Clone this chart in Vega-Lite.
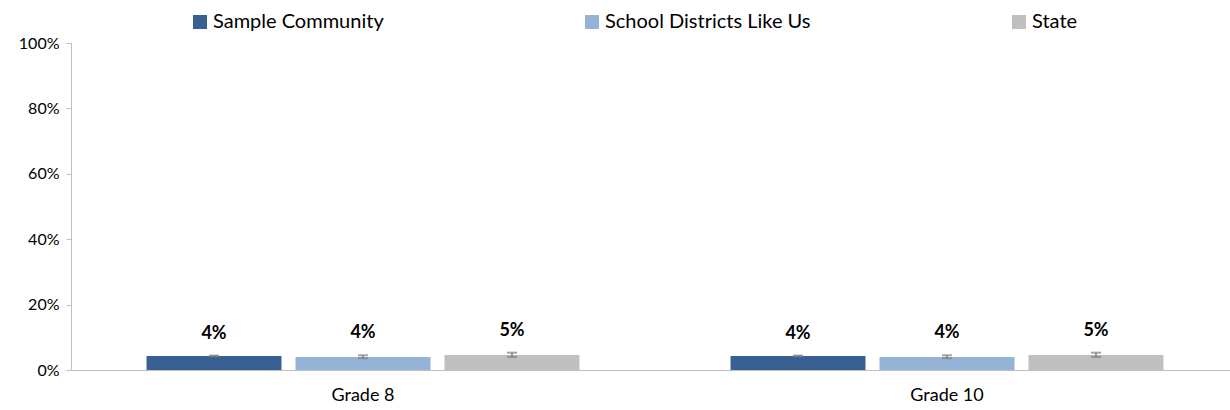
{
  "$schema": "https://vega.github.io/schema/vega-lite/v6.json",
  "width": 1168,
  "height": 327,
  "autosize": {"type": "none"},
  "padding": {"left": 71, "top": 43, "right": 0, "bottom": 40},
  "background": "white",
  "config": {
    "font": "Lato",
    "view": {"stroke": null},
    "axis": {"labelFont": "Lato", "labelColor": "#000000"}
  },
  "data": {
    "values": [
      {"grade": "Grade 8", "series": "Sample Community", "value": 4.3, "lo": 4.2, "hi": 4.4, "label": "4%"},
      {"grade": "Grade 8", "series": "School Districts Like Us", "value": 4.0, "lo": 3.6, "hi": 4.5, "label": "4%"},
      {"grade": "Grade 8", "series": "State", "value": 4.6, "lo": 4.0, "hi": 5.3, "label": "5%"},
      {"grade": "Grade 10", "series": "Sample Community", "value": 4.3, "lo": 4.2, "hi": 4.4, "label": "4%"},
      {"grade": "Grade 10", "series": "School Districts Like Us", "value": 4.0, "lo": 3.6, "hi": 4.5, "label": "4%"},
      {"grade": "Grade 10", "series": "State", "value": 4.6, "lo": 4.0, "hi": 5.3, "label": "5%"}
    ]
  },
  "encoding": {
    "x": {
      "field": "grade", "type": "nominal", "sort": ["Grade 8", "Grade 10"],
      "scale": {"paddingInner": 0, "paddingOuter": 0},
      "axis": {"title": null, "labelAngle": 0, "ticks": false, "domainColor": "#BFBFBF", "domainWidth": 1, "labelFontSize": 18, "labelPadding": 16}
    },
    "xOffset": {
      "field": "series", "type": "nominal",
      "sort": ["Sample Community", "School Districts Like Us", "State"],
      "scale": {"paddingInner": 0.094, "paddingOuter": 0.507}
    }
  },
  "layer": [
    {
      "mark": {"type": "bar"},
      "encoding": {
        "y": {
          "field": "value", "type": "quantitative",
          "scale": {"domain": [0, 100]},
          "axis": {"title": null, "values": [0, 20, 40, 60, 80, 100], "labelExpr": "datum.value + '%'", "grid": false, "domainColor": "#BFBFBF", "tickColor": "#BFBFBF", "tickSize": 5, "labelFontSize": 16, "labelPadding": 7}
        },
        "color": {
          "field": "series", "type": "nominal",
          "sort": ["Sample Community", "School Districts Like Us", "State"],
          "scale": {"domain": ["Sample Community", "School Districts Like Us", "State"], "range": ["#375F92", "#95B3D7", "#BFBFBF"]},
          "legend": {
            "title": null, "orient": "none", "legendX": 119, "legendY": -31,
            "direction": "horizontal", "columns": 3, "columnPadding": 198,
            "symbolType": "square", "symbolSize": 196, "symbolStrokeWidth": 0,
            "labelFontSize": 20, "labelFont": "Lato", "labelColor": "#000000", "labelOffset": 3, "labelLimit": 400
          }
        }
      }
    },
    {
      "mark": {"type": "rule", "color": "#7F7F7F", "strokeWidth": 1.5},
      "encoding": {
        "y": {"field": "lo", "type": "quantitative"},
        "y2": {"field": "hi"}
      }
    },
    {
      "mark": {"type": "tick", "color": "#7F7F7F", "orient": "horizontal", "size": 10, "thickness": 2},
      "encoding": {"y": {"field": "lo", "type": "quantitative"}}
    },
    {
      "mark": {"type": "tick", "color": "#7F7F7F", "orient": "horizontal", "size": 10, "thickness": 2},
      "encoding": {"y": {"field": "hi", "type": "quantitative"}}
    },
    {
      "mark": {"type": "text", "fontWeight": "bold", "fontSize": 18, "baseline": "bottom", "dy": -13, "color": "#000000"},
      "encoding": {
        "y": {"field": "hi", "type": "quantitative"},
        "text": {"field": "label"}
      }
    }
  ]
}
